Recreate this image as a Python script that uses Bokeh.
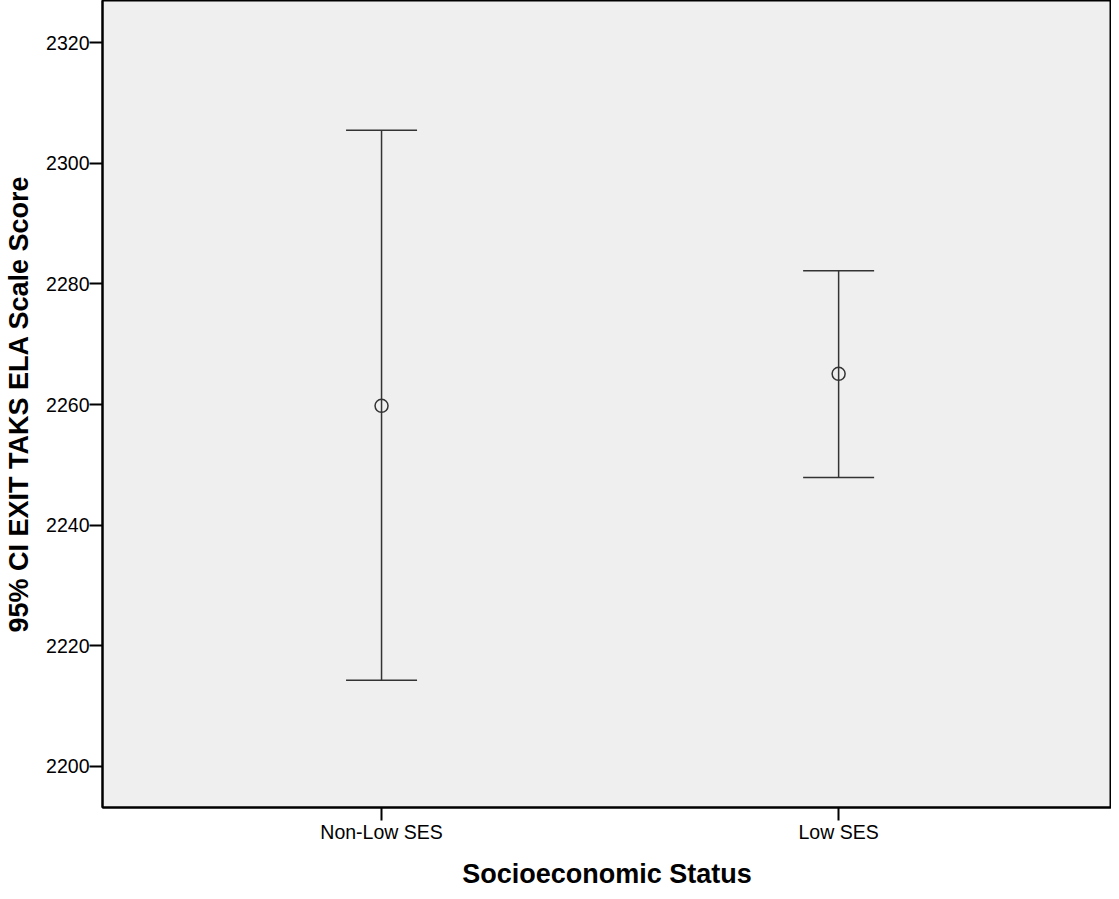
from bokeh.plotting import figure
from bokeh.models import ColumnDataSource, Whisker, TeeHead, FixedTicker, Range1d
from bokeh.embed import file_html
from bokeh.resources import INLINE

# ---- data ----
categories = ["Non-Low SES", "Low SES"]
means = [2259.8, 2265.1]
lower_ci = [2214.3, 2247.9]
upper_ci = [2305.5, 2282.2]
y_ticks = [2200, 2220, 2240, 2260, 2280, 2300, 2320]

xpos = list(range(1, len(categories) + 1))
src = ColumnDataSource(dict(x=xpos, mean=means, lower=lower_ci, upper=upper_ci))

FONT = "Liberation Sans"
LINE = "#333333"

p = figure(width=1111, height=891, output_backend="svg", toolbar_location=None,
           x_range=Range1d(0.3895, 2.597), y_range=Range1d(2193.2, 2327.0),
           min_border_left=102, min_border_right=0, min_border_top=0, min_border_bottom=0)

p.background_fill_color = "#efefef"
p.border_fill_color = "white"
p.outline_line_color = "black"
p.outline_line_width = 2
p.xgrid.visible = False
p.ygrid.visible = False

# axes
p.xaxis.ticker = FixedTicker(ticks=xpos)
p.xaxis.major_label_overrides = {x: c for x, c in zip(xpos, categories)}
p.yaxis.ticker = FixedTicker(ticks=y_ticks)
for ax in (p.xaxis[0], p.yaxis[0]):
    ax.axis_line_color = "black"
    ax.axis_line_width = 2
    ax.major_tick_line_color = "black"
    ax.major_tick_line_width = 2
    ax.major_tick_out = 13
    ax.major_tick_in = 0
    ax.minor_tick_line_color = None
    ax.major_label_text_font = FONT
    ax.major_label_text_font_size = "19.5px"
    ax.major_label_text_color = "black"
    ax.axis_label_text_font = FONT
    ax.axis_label_text_font_size = "27px"
    ax.axis_label_text_font_style = "bold"
    ax.axis_label_text_color = "black"

p.xaxis.axis_label = "Socioeconomic Status"
p.yaxis.axis_label = "95% CI EXIT TAKS ELA Scale Score"
p.xaxis.major_label_standoff = 0
p.yaxis.major_label_standoff = 0
p.xaxis.axis_label_standoff = 13
p.yaxis.axis_label_standoff = 9

# error bars
w = Whisker(base="x", upper="upper", lower="lower", source=src, dimension="height",
            line_color=LINE, line_width=1.5,
            upper_head=TeeHead(size=71, line_color=LINE, line_width=1.5),
            lower_head=TeeHead(size=71, line_color=LINE, line_width=1.5))
p.add_layout(w)

p.scatter("x", "mean", source=src, marker="circle", size=13,
          fill_color=None, line_color=LINE, line_width=1.5)

open("out.html", "w").write(file_html(p, INLINE))
